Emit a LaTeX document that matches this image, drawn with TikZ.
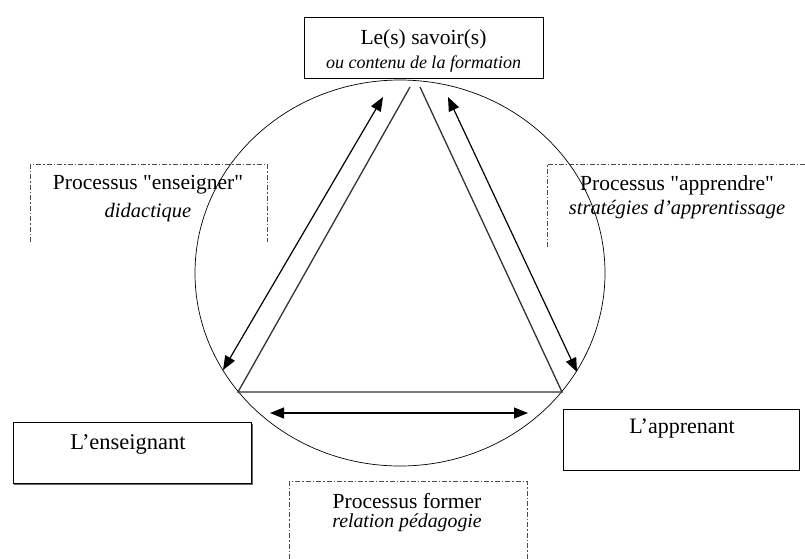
\documentclass[tikz,border=0pt]{standalone}
\usepackage{fontspec}
\setmainfont{Liberation Serif}[Ligatures=TeXOff]
\usetikzlibrary{arrows.meta,shadows}
\begin{document}
\begin{tikzpicture}[x=1pt,y=-1pt,
 solidbox/.style={draw=black, line width=0.9pt, fill=white, inner sep=0pt,
   drop shadow={shadow xshift=1.4pt,shadow yshift=-1.4pt,fill=black!60,opacity=1}},
 dashbox/.style={draw=black!70, line width=0.8pt, dash pattern=on 5pt off 2pt on 1.5pt off 2pt},
 lbl/.style={inner sep=0pt, font=\fontsize{21.5}{24}\selectfont},
 ilbl/.style={inner sep=0pt, font=\fontsize{20.5}{24}\selectfont\itshape},
 tri/.style={draw=black!80, line width=1.3pt},
 dbl/.style={line width=1.2pt, {Triangle[length=14pt,width=11pt]}-{Triangle[length=14pt,width=11pt]}}
]
\useasboundingbox (0,0) rectangle (805,558);

% solid boxes
\node[solidbox, minimum width=239pt, minimum height=61pt] (savoirbox) at (423.5,47.5) {};
\node[solidbox, minimum width=238.5pt, minimum height=61pt] (enseignbox) at (132.2,452.8) {};
\node[solidbox, minimum width=236pt, minimum height=61pt] (apprenbox) at (681,439.5) {};

\node[lbl] (savoir) at (423.5,39) {Le(s) savoir(s)};
\node[ilbl, font=\fontsize{18}{20}\selectfont\itshape] (contenu) at (423.5,64) {ou contenu de la formation};
\node[lbl, font=\fontsize{22.5}{24}\selectfont] (enseignant) at (128,444) {L’enseignant};
\node[lbl, font=\fontsize{22}{24}\selectfont] (apprenant) at (682,429) {L’apprenant};

% dashed frames
\draw[dashbox] (30,242) -- (30,164) -- (267,164) -- (267,242);
\draw[dashbox] (547,247) -- (547,164) -- (806,164);
\draw[dashbox] (289,559) -- (289,481) -- (527,481) -- (527,559);

\node[lbl] (penseigner) at (148,185) {Processus "enseigner"};
\node[ilbl] (didactique) at (148,213) {didactique};
\node[lbl] (papprendre) at (677,185) {Processus "apprendre"};
\node[ilbl] (strategies) at (677,210) {stratégies d’apprentissage};
\node[lbl] (pformer) at (407,501) {Processus former};
\node[ilbl, font=\fontsize{19.8}{24}\selectfont\itshape] (relation) at (407,523) {relation pédagogie};

% circle
\draw[line width=0.7pt] (400,273) ellipse [x radius=205pt, y radius=193pt];

% triangle
\coordinate (apexL) at (410,87);
\coordinate (apexR) at (420,87);
\coordinate (cornerL) at (238,392);
\coordinate (cornerR) at (562,392);
\draw[tri] (apexL) -- (cornerL) -- (cornerR) -- (apexR);

% arrows
\coordinate (aLtop) at (383,97);
\coordinate (aLbot) at (223,370);
\coordinate (aRtop) at (448,97);
\coordinate (aRbot) at (577,372);
\coordinate (aBl) at (270,413);
\coordinate (aBr) at (528,413);
\draw[dbl] (aLtop) -- (aLbot);
\draw[dbl] (aRtop) -- (aRbot);
\draw[dbl] (aBl) -- (aBr);
\end{tikzpicture}
\end{document}
